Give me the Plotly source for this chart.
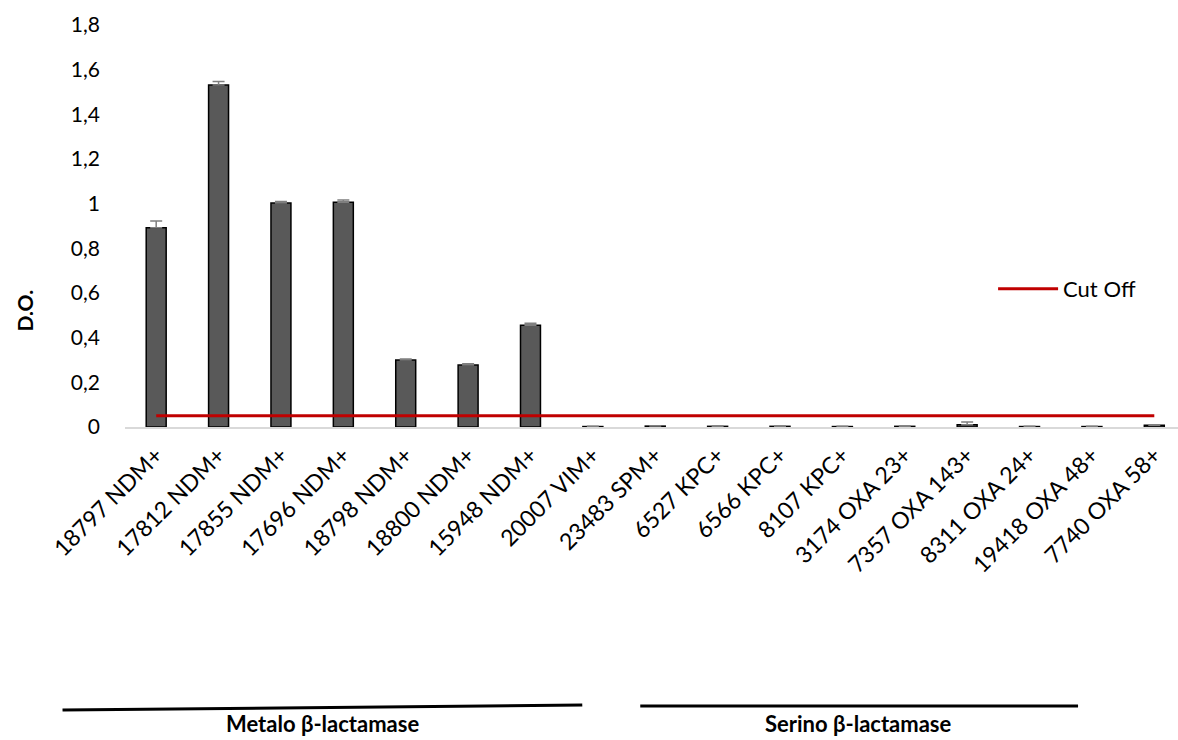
import plotly.graph_objects as go

# Isolates tested and their mean optical density
categories = [
    "18797 NDM+", "17812 NDM+", "17855 NDM+", "17696 NDM+", "18798 NDM+",
    "18800 NDM+", "15948 NDM+", "20007 VIM+", "23483 SPM+", "6527 KPC+",
    "6566 KPC+", "8107 KPC+", "3174 OXA 23+", "7357 OXA 143+", "8311 OXA 24+",
    "19418 OXA 48+", "7740 OXA 58+",
]
od_values = [0.892, 1.531, 1.003, 1.006, 0.300, 0.278, 0.456, 0.002, 0.004,
             0.003, 0.003, 0.002, 0.003, 0.010, 0.002, 0.002, 0.008]
od_errors = [0.030, 0.016, 0.007, 0.010, 0.005, 0.005, 0.009, 0.001, 0.002,
             0.001, 0.001, 0.001, 0.001, 0.012, 0.001, 0.001, 0.002]
cutoff_value = 0.05
cutoff_values = [cutoff_value] * len(categories)

y_ticks = [0, 0.2, 0.4, 0.6, 0.8, 1.0, 1.2, 1.4, 1.6, 1.8]

FONT = "Lato"

fig = go.Figure()

fig.add_trace(go.Bar(
    x=categories,
    y=od_values,
    width=0.32,
    marker=dict(color="#595959", line=dict(color="#000000", width=1.5)),
    error_y=dict(type="data", array=od_errors, symmetric=False,
                 arrayminus=[0] * len(od_errors),
                 color="#7f7f7f", thickness=1.5, width=6),
    showlegend=False,
))

fig.add_trace(go.Scatter(
    x=categories,
    y=cutoff_values,
    mode="lines",
    line=dict(color="#c00000", width=3),
    name="Cut Off",
))

# Plot area geometry (pixels) used to place the group brackets
W, H = 1178, 740
L, R, T, B = 124.5, 0, 25, 313
pw, ph = W - L - R, H - T - B


def px_x(px):
    return (px - L) / pw


def px_y(py):
    return (H - B - py) / ph


shapes = [
    dict(type="line", xref="paper", yref="paper",
         x0=px_x(62), y0=px_y(710), x1=px_x(582), y1=px_y(705),
         line=dict(color="#000000", width=3)),
    dict(type="line", xref="paper", yref="paper",
         x0=px_x(640), y0=px_y(706), x1=px_x(1078), y1=px_y(706),
         line=dict(color="#000000", width=3)),
]

label_font = dict(family=FONT, size=22, color="#000000")
annotations = [
    dict(text="<b>Metalo β-lactamase</b>", xref="paper", yref="paper",
         x=px_x(322), y=px_y(723), xanchor="center", yanchor="middle",
         showarrow=False, font=label_font),
    dict(text="<b>Serino β-lactamase</b>", xref="paper", yref="paper",
         x=px_x(858), y=px_y(723), xanchor="center", yanchor="middle",
         showarrow=False, font=label_font),
    dict(text="<b>D.O.</b>", xref="paper", yref="paper",
         x=px_x(23), y=px_y(311), xanchor="center", yanchor="middle",
         showarrow=False, textangle=-90,
         font=dict(family=FONT, size=21, color="#000000")),
]

fig.update_layout(
    width=W, height=H,
    margin=dict(l=L, r=R, t=T, b=B, pad=0),
    paper_bgcolor="#ffffff",
    plot_bgcolor="#ffffff",
    separators=", ",
    font=dict(family=FONT, size=21, color="#000000"),
    shapes=shapes,
    annotations=annotations,
    legend=dict(x=px_x(993), y=px_y(289), xanchor="left", yanchor="middle",
                bgcolor="rgba(0,0,0,0)", font=dict(family=FONT, size=22),
                itemwidth=60),
    xaxis=dict(
        range=[-0.5, 16.38],
        showgrid=False, zeroline=False,
        showline=True, linecolor="#d9d9d9", linewidth=1.5,
        tickangle=-45, ticks="",
        ticklabelstandoff=4,
        tickfont=dict(family=FONT, size=23, color="#000000"),
    ),
    yaxis=dict(
        range=[0, 1.8],
        tickmode="array", tickvals=y_ticks,
        ticktext=[("%g" % v).replace(".", ",") for v in y_ticks],
        showgrid=False, zeroline=False, showline=False, ticks="",
        ticklabelstandoff=24,
        tickfont=dict(family=FONT, size=21, color="#000000"),
    ),
)

fig.write_html("out.html")
